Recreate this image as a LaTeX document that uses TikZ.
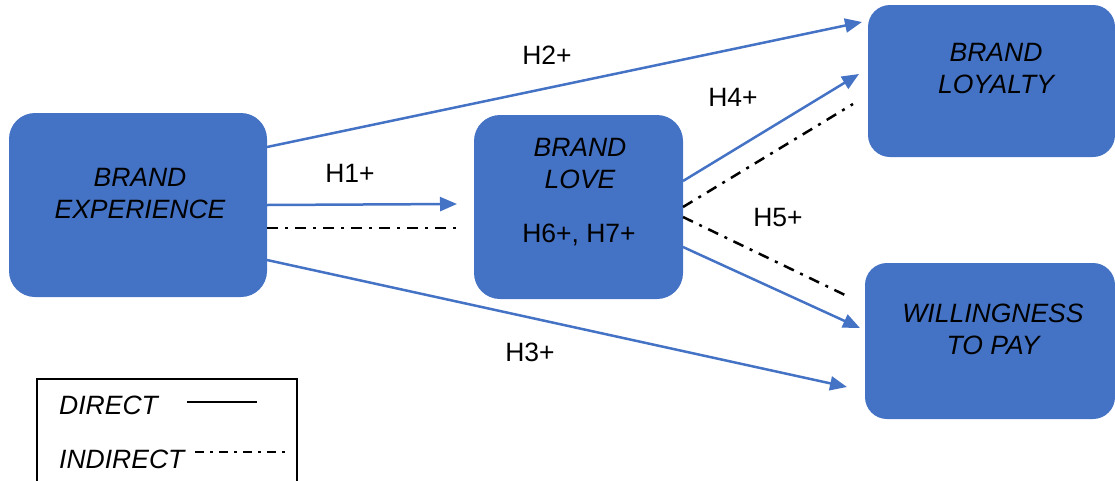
\documentclass[tikz,border=0pt]{standalone}
\usepackage{fontspec}
\setmainfont{Liberation Sans}
\usetikzlibrary{arrows.meta}
\definecolor{boxblue}{HTML}{4472C4}
\begin{document}
\begin{tikzpicture}[x=1pt,y=-1pt,
 box/.style={fill=boxblue, draw=none, rounded corners=26pt, inner sep=0pt},
 lbl/.style={font=\fontsize{26.5}{32}\selectfont, inner sep=0pt},
 boxtxt/.style={font=\fontsize{26.5}{32}\selectfont\itshape, inner sep=0pt, align=center},
 direct/.style={draw=boxblue, line width=2.5pt, -{Triangle[length=17pt,width=14pt]}},
 indirect/.style={draw=black, line width=2.5pt, dash pattern=on 11pt off 7pt on 3pt off 7pt},
]
\useasboundingbox (0,0) rectangle (1115,480);
% boxes
\node[box, minimum width=258pt, minimum height=184pt] (be) at (138,205) {};
\node[box, minimum width=209pt, minimum height=184pt] (bl) at (578.5,207) {};
\node[box, minimum width=247pt, minimum height=152pt, rounded corners=22pt] (loy) at (991.5,81) {};
\node[box, minimum width=250pt, minimum height=156pt, rounded corners=22pt] (wtp) at (990,341) {};
% box texts
\node[boxtxt] (betxt) at (140,194) {BRAND\\EXPERIENCE};
\node[boxtxt] (bltxt) at (580,163.5) {BRAND\\LOVE};
\node[lbl] (h67) at (579,235) {H6+, H7+};
\node[boxtxt] (loytxt) at (996,69) {BRAND\\LOYALTY};
\node[boxtxt] (wtptxt) at (993,329) {WILLINGNESS\\TO PAY};
% connector end points
\coordinate (h2s) at (267,147); \coordinate (h2e) at (862,22);
\coordinate (h1s) at (267,205); \coordinate (h1e) at (457,204);
\coordinate (i1s) at (267,228); \coordinate (i1e) at (456,228);
\coordinate (h3s) at (267,260); \coordinate (h3e) at (847,387);
\coordinate (h4s) at (683,181); \coordinate (h4e) at (859,74);
\coordinate (i2s) at (683,207); \coordinate (i2e) at (853,104);
\coordinate (i3s) at (683,217); \coordinate (i3e) at (845,295);
\coordinate (h5s) at (683,247); \coordinate (h5e) at (860,328);
% connectors
\draw[direct] (h2s) -- (h2e);
\draw[direct] (h1s) -- (h1e);
\draw[indirect] (i1s) -- (i1e);
\draw[direct] (h3s) -- (h3e);
\draw[direct] (h4s) -- (h4e);
\draw[indirect] (i2s) -- (i2e);
\draw[indirect] (i3s) -- (i3e);
\draw[direct] (h5s) -- (h5e);
% labels
\node[lbl] (lh2) at (547,55) {H2+};
\node[lbl] (lh1) at (350,173) {H1+};
\node[lbl] (lh4) at (733,97) {H4+};
\node[lbl] (lh5) at (778,218) {H5+};
\node[lbl] (lh3) at (530,352) {H3+};
% legend
\draw[black, line width=1.8pt] (37,482) -- (37,379) -- (297,379) -- (297,482);
\node[lbl, font=\fontsize{26.5}{32}\selectfont\itshape, anchor=west] (ldir) at (59,405) {DIRECT};
\node[lbl, font=\fontsize{26.5}{32}\selectfont\itshape, anchor=west] (lind) at (59,459) {INDIRECT};
\coordinate (ld1) at (187,402); \coordinate (ld2) at (257,402);
\coordinate (li1) at (195,452); \coordinate (li2) at (285,452);
\draw[black, line width=2pt] (ld1) -- (ld2);
\draw[black, line width=2pt, dash pattern=on 9pt off 6pt on 3pt off 6pt] (li1) -- (li2);
\end{tikzpicture}
\end{document}
